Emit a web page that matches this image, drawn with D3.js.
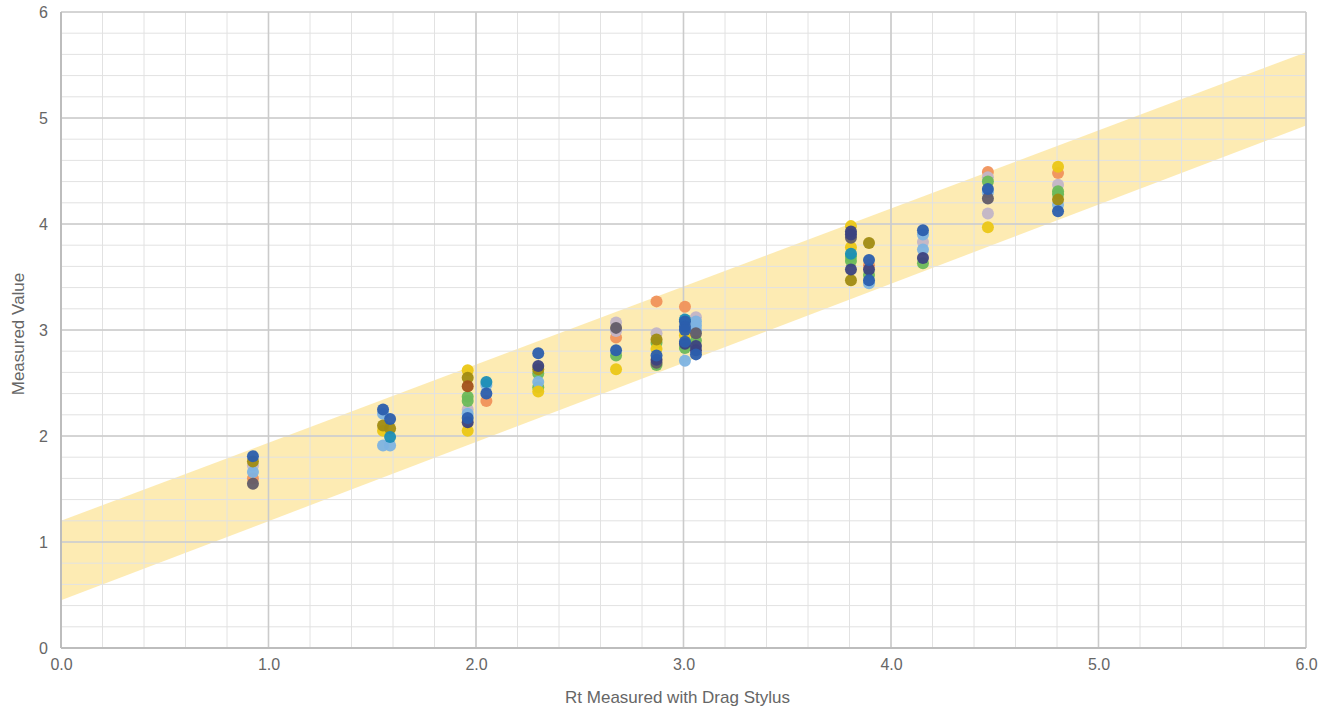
<!DOCTYPE html>
<html><head><meta charset="utf-8">
<script src="https://cdn.jsdelivr.net/npm/d3@7"></script>
<style>body{margin:0;background:#fff;} text{font-family:"Liberation Sans",Arial,sans-serif;}</style>
</head><body><svg id="c" width="1330" height="709"></svg>
<script>
const xTicks = [0,1,2,3,4,5,6];
const yTicks = [0,1,2,3,4,5,6];
const xLabel = "Rt Measured with Drag Stylus";
const yLabel = "Measured Value";
const bandLower = [[0,0.45],[6,4.93]];
const bandUpper = [[0,1.2],[6,5.62]];
const colors = {darkBlue:"#2b5ead",yellow:"#ebc716",olive:"#a08b12",lightBlue:"#7db3e2",orange:"#f0925b",greyPurple:"#c2b5c7",darkGrey:"#625c68",green:"#6bb95a",teal:"#1b8eb6",brown:"#a2511b",navy:"#3c4280"};
const darkBlue=[[0.925,1.81],[1.552,2.25],[1.586,2.16],[1.96,2.17],[2.05,2.40],[2.30,2.78],[2.675,2.81],[2.87,2.76],[3.007,3.08],[3.007,3.03],[3.007,3.0],[3.007,2.89],[3.06,2.77],[3.894,3.66],[3.894,3.47],[4.154,3.94],[4.467,4.33],[4.805,4.12]];
const yellow=[[1.552,2.05],[1.96,2.62],[1.96,2.05],[2.30,2.42],[2.675,2.63],[2.87,2.82],[3.007,2.95],[3.807,3.98],[3.807,3.78],[4.467,3.97],[4.805,4.54]];
const olive=[[0.925,1.76],[1.552,2.10],[1.586,2.07],[1.96,2.55],[2.30,2.63],[2.87,2.91],[3.807,3.47],[3.894,3.82],[4.805,4.23]];
const lightBlue=[[0.925,1.66],[1.552,2.21],[1.552,1.91],[1.586,1.91],[1.96,2.21],[2.05,2.48],[2.30,2.51],[3.007,2.71],[3.06,3.08],[3.06,3.04],[3.06,3.0],[3.894,3.44],[4.154,3.9],[4.154,3.76],[4.467,4.30],[4.805,4.18]];
const orange=[[0.925,1.60],[2.05,2.33],[2.675,2.93],[2.87,3.27],[3.007,3.22],[3.894,3.61],[4.467,4.49],[4.805,4.48]];
const greyPurple=[[0.925,1.72],[1.96,2.25],[2.675,3.07],[2.675,2.99],[2.87,2.97],[3.06,3.12],[4.154,3.83],[4.467,4.44],[4.467,4.10],[4.805,4.37]];
const darkGrey=[[0.925,1.55],[2.675,3.02],[2.87,2.69],[3.06,2.97],[3.807,3.87],[4.467,4.24]];
const green=[[1.96,2.37],[1.96,2.33],[2.30,2.59],[2.30,2.46],[2.675,2.76],[2.87,2.88],[2.87,2.67],[3.007,2.83],[3.06,2.90],[3.807,3.69],[3.807,3.65],[3.894,3.52],[4.154,3.63],[4.467,4.40],[4.805,4.31],[4.805,4.28]];
const teal=[[1.586,1.99],[2.05,2.51],[3.007,3.10],[3.807,3.72]];
const brown=[[1.96,2.47]];
const navy=[[1.96,2.13],[2.30,2.66],[2.87,2.72],[3.007,2.87],[3.06,2.85],[3.06,2.81],[3.807,3.93],[3.807,3.90],[3.807,3.57],[3.894,3.57],[4.154,3.68]];
const seriesList = [["orange",orange],["greyPurple",greyPurple],["green",green],["lightBlue",lightBlue],["yellow",yellow],["olive",olive],["teal",teal],["brown",brown],["darkGrey",darkGrey],["navy",navy],["darkBlue",darkBlue]];

const svg = d3.select("#c");
const L=61,R=1306,T=12,B=648;
const x = d3.scaleLinear().domain([0,6]).range([L,R]);
const y = d3.scaleLinear().domain([0,6]).range([B,T]);

svg.append("defs").append("clipPath").attr("id","clip").append("rect").attr("x",L).attr("y",T).attr("width",R-L).attr("height",B-T);

const bandPts = bandUpper.concat(bandLower.slice().reverse());
svg.append("path").attr("clip-path","url(#clip)")
  .attr("d", d3.line().x(d=>x(d[0])).y(d=>y(d[1]))(bandPts)+"Z")
  .attr("fill","#fde7a6").attr("opacity",0.85);

const minor = d3.range(0,6.001,0.2).map(v=>+v.toFixed(2));
const g = svg.append("g");
g.selectAll(".vx").data(minor).join("line").attr("x1",d=>x(d)).attr("x2",d=>x(d)).attr("y1",T).attr("y2",B).attr("stroke","#e2e2e2").attr("stroke-width",1);
g.selectAll(".hy").data(minor).join("line").attr("y1",d=>y(d)).attr("y2",d=>y(d)).attr("x1",L).attr("x2",R).attr("stroke","#e2e2e2").attr("stroke-width",1);
g.selectAll(".mx").data(xTicks).join("line").attr("x1",d=>x(d)).attr("x2",d=>x(d)).attr("y1",T).attr("y2",B).attr("stroke","#cbcbcb").attr("stroke-width",1.6);
g.selectAll(".my").data(yTicks).join("line").attr("y1",d=>y(d)).attr("y2",d=>y(d)).attr("x1",L).attr("x2",R).attr("stroke","#cbcbcb").attr("stroke-width",1.6);
svg.append("line").attr("x1",L).attr("x2",L).attr("y1",T).attr("y2",B).attr("stroke","#bdbdbd").attr("stroke-width",2);
svg.append("line").attr("x1",L).attr("x2",R).attr("y1",B).attr("y2",B).attr("stroke","#bdbdbd").attr("stroke-width",2);

const xAxis = svg.append("g").attr("transform",`translate(0,${B})`).call(d3.axisBottom(x).tickValues(xTicks).tickFormat(d3.format(".1f")).tickSize(0).tickPadding(11));
const yAxis = svg.append("g").attr("transform",`translate(${L},0)`).call(d3.axisLeft(y).tickValues(yTicks).tickFormat(d3.format("d")).tickSize(0).tickPadding(13));
[xAxis,yAxis].forEach(a=>{a.select(".domain").remove();a.selectAll("text").attr("fill","#666").style("font-size","16px").style("font-family","Liberation Sans, Arial, sans-serif");});

svg.append("text").attr("x",(L+R)/2-6).attr("y",703).attr("text-anchor","middle").attr("fill","#666").style("font-size","17px").text(xLabel);
svg.append("text").attr("transform",`translate(24,${(T+B)/2+4}) rotate(-90)`).attr("text-anchor","middle").attr("fill","#666").style("font-size","17px").text(yLabel);

seriesList.forEach(([name,pts])=>{
  svg.append("g").selectAll("circle").data(pts).join("circle")
    .attr("cx",d=>x(d[0])).attr("cy",d=>y(d[1])).attr("r",6)
    .attr("fill",colors[name]).attr("opacity",0.95);
});
</script></body></html>
